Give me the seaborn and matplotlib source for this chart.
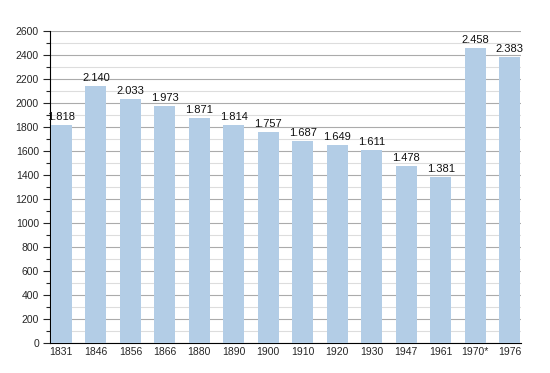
import numpy as np
import pandas as pd
import matplotlib
matplotlib.use("Agg")
import matplotlib.pyplot as plt
import seaborn as sns
from matplotlib.ticker import MultipleLocator

# ---- Data ----
years = ['1831', '1846', '1856', '1866', '1880', '1890', '1900', '1910',
         '1920', '1930', '1947', '1961', '1970*', '1976']
population = [1818, 2140, 2033, 1973, 1871, 1814, 1757, 1687, 1649, 1611,
              1478, 1381, 2458, 2383]
labels = ['1.818', '2.140', '2.033', '1.973', '1.871', '1.814', '1.757',
          '1.687', '1.649', '1.611', '1.478', '1.381', '2.458', '2.383']

df = pd.DataFrame({'year': years, 'pop': population})

sns.set_style("white")
plt.rcParams['font.family'] = ['Liberation Sans', 'DejaVu Sans']

fig = plt.figure(figsize=(5.5, 3.73), dpi=100)
ax = fig.add_axes([50 / 550, 30 / 373, 471 / 550, 312 / 373])

sns.barplot(data=df, x='year', y='pop', color='#b3cde6', width=0.61,
            saturation=1, linewidth=0, ax=ax, zorder=3)

# value labels above bars
for i, (v, t) in enumerate(zip(population, labels)):
    ax.text(i, v + 25, t, ha='center', va='bottom', fontsize=8, color='#111111')

ax.set_ylim(0, 2600)
ax.set_xlim(-0.33, 13.33)
ax.yaxis.set_major_locator(MultipleLocator(200))
ax.yaxis.set_minor_locator(MultipleLocator(100))
ax.grid(axis='y', which='major', color='#ababab', linewidth=0.8, zorder=0)
ax.grid(axis='y', which='minor', color='#dddddd', linewidth=0.8, zorder=0)
ax.set_axisbelow(True)

for s in ['top', 'right']:
    ax.spines[s].set_visible(False)
ax.spines['left'].set_color('black')
ax.spines['bottom'].set_color('black')

ax.tick_params(axis='y', which='major', length=5, width=0.8, left=True,
               labelsize=7.5, pad=3)
ax.tick_params(axis='y', which='minor', length=3, width=0.8, left=True)
ax.tick_params(axis='x', length=0, labelsize=7.5, pad=3)
ax.set_xlabel('')
ax.set_ylabel('')

fig.savefig('out.png', dpi=100)
